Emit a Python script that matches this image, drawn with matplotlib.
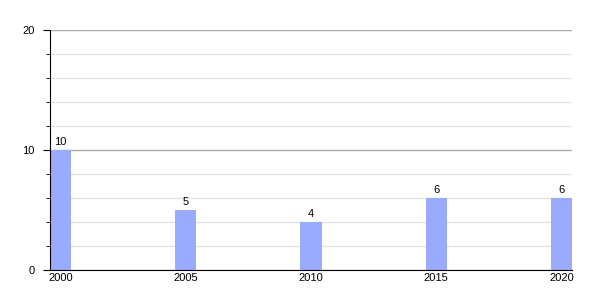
import matplotlib.pyplot as plt
from matplotlib.ticker import MultipleLocator

# data
years = [2000, 2005, 2010, 2015, 2020]
values = [10, 5, 4, 6, 6]
year_labels = ['2000', '2005', '2010', '2015', '2020']

BAR_W = 0.84
BAR_COLOR = '#9aabff'

plt.rcParams['font.family'] = ['Liberation Sans', 'DejaVu Sans']

fig = plt.figure(figsize=(6, 3), dpi=100)
ax = fig.add_axes([50 / 600, 30 / 300, 522 / 600, 240 / 300])

bars = ax.bar(years, values, width=BAR_W, align='edge', color=BAR_COLOR, zorder=3)
for b, v in zip(bars, values):
    ax.annotate(str(v), (b.get_x() + b.get_width() / 2, v), xytext=(0, 2),
                textcoords='offset points', ha='center', va='bottom', fontsize=8)

ax.set_xlim(years[0], years[-1] + BAR_W)
ax.set_ylim(0, 20)

ax.set_xticks([y + BAR_W / 2 for y in years])
ax.set_xticklabels(year_labels, fontsize=8)
ax.tick_params(axis='x', length=0, pad=2)

ax.yaxis.set_major_locator(MultipleLocator(10))
ax.yaxis.set_minor_locator(MultipleLocator(2))
ax.tick_params(axis='y', which='major', length=5, labelsize=8, pad=6)
ax.tick_params(axis='y', which='minor', length=3)

ax.grid(axis='y', which='major', color='#aaaaaa', linewidth=1, zorder=1)
ax.grid(axis='y', which='minor', color='#e4e4e4', linewidth=1, zorder=1)
ax.set_axisbelow(True)

for s in ['top', 'right']:
    ax.spines[s].set_visible(False)
ax.spines['left'].set_zorder(4)
ax.spines['bottom'].set_zorder(4)

fig.savefig('out.png', dpi=100)
